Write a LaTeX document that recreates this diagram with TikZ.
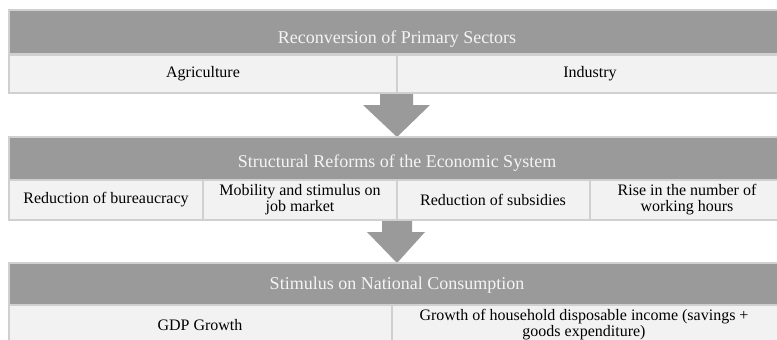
\documentclass[tikz,border=0pt]{standalone}
\usepackage{fontspec}
\setmainfont{Liberation Serif}
\definecolor{bargray}{HTML}{9A9A9A}
\definecolor{cellfill}{HTML}{F2F2F2}
\definecolor{edgegray}{HTML}{D0D0D0}
\definecolor{titlecol}{HTML}{F4F4F4}
\begin{document}
\begin{tikzpicture}[x=1pt,y=-1pt,
  bar/.style={rectangle, fill=bargray, draw=edgegray, line width=1.5pt, inner sep=0pt},
  cell/.style={rectangle, fill=cellfill, draw=edgegray, line width=1.5pt, inner sep=0pt},
  titletext/.style={text=titlecol, font=\fontsize{18}{18}\selectfont, inner sep=0pt},
  celltext/.style={text=black, font=\fontsize{16}{16}\selectfont, align=center, inner sep=0pt},
  blockarrow/.style={fill=bargray, draw=none}]
\useasboundingbox (0,0) rectangle (777,340);
\clip (0,0) rectangle (777,340);
% Section 1
\node[bar, minimum width=776, minimum height=44] (bar1) at (397,32) {};
\node[titletext] (t1) at (397,39) {Reconversion of Primary Sectors};
\node[cell, minimum width=388, minimum height=38] (agri) at (203,74) {};
\node[celltext] (agriT) at (203,74) {Agriculture};
\node[cell, minimum width=388, minimum height=38] (ind) at (591,74) {};
\node[celltext] (indT) at (590,74) {Industry};
% Arrow 1
\fill[blockarrow] (380,94) -- (413,94) -- (413,105) -- (430,105) -- (397,137) -- (363,105) -- (380,105) -- cycle;
% Section 2
\node[bar, minimum width=776, minimum height=43] (bar2) at (397,158.5) {};
\node[titletext] (t2) at (397,163) {Structural Reforms of the Economic System};
\node[cell, minimum width=194, minimum height=40] (c21) at (106,200) {};
\node[celltext] (c21T) at (106,200) {Reduction of bureaucracy};
\node[cell, minimum width=194, minimum height=40] (c22) at (300,200) {};
\node[celltext] (c22T) at (300,200) {Mobility and stimulus on\\job market};
\node[cell, minimum width=193, minimum height=40] (c23) at (493.5,200) {};
\node[celltext] (c23T) at (493,200) {Reduction of subsidies};
\node[cell, minimum width=195, minimum height=40] (c24) at (687.5,200) {};
\node[celltext] (c24T) at (687,200) {Rise in the number of\\working hours};
% Arrow 2
\fill[blockarrow] (382,221) -- (412,221) -- (412,232) -- (425,232) -- (397,263) -- (367,232) -- (382,232) -- cycle;
% Section 3
\node[bar, minimum width=776, minimum height=42] (bar3) at (397,284) {};
\node[titletext] (t3) at (397,285) {Stimulus on National Consumption};
\node[cell, minimum width=383, minimum height=40] (c31) at (200.5,325) {};
\node[celltext] (c31T) at (200,325) {GDP Growth};
\node[cell, minimum width=393, minimum height=40] (c32) at (588.5,325) {};
\node[celltext] (c32T) at (584,325) {Growth of household disposable income (savings +\\goods expenditure)};
\end{tikzpicture}
\end{document}
